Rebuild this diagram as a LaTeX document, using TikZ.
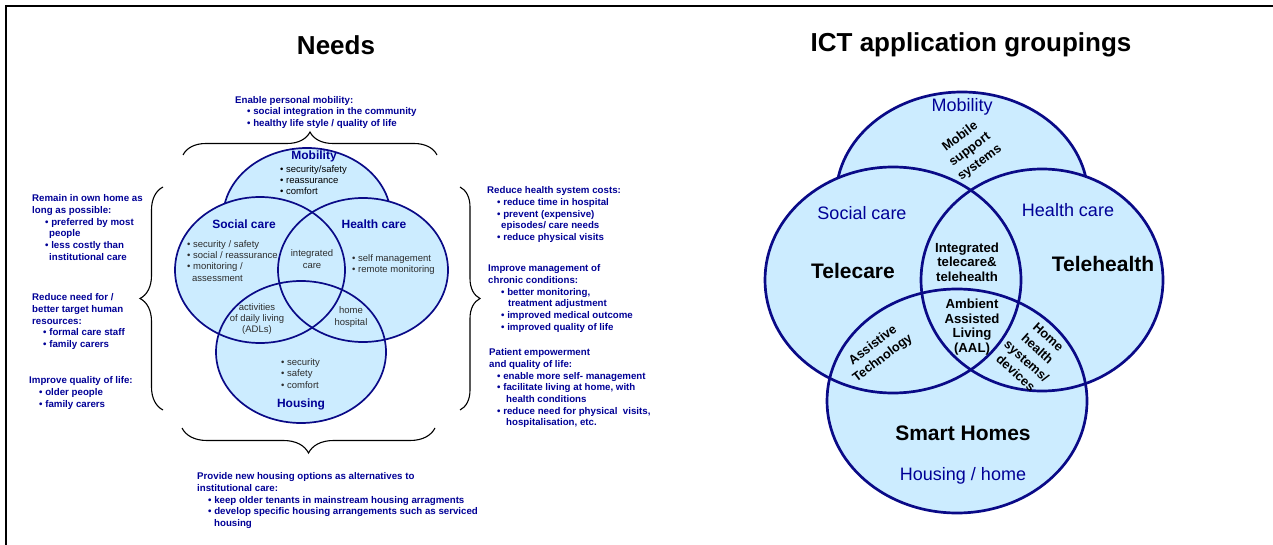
\documentclass[tikz,border=0pt]{standalone}
\usepackage{fontspec}
\setmainfont{Liberation Sans}
\usetikzlibrary{decorations.pathreplacing}
\definecolor{fillb}{RGB}{204,236,255}
\definecolor{navy}{RGB}{10,10,135}
\definecolor{txtb}{RGB}{0,0,150}
\definecolor{grayt}{RGB}{45,45,45}
\begin{document}
\begin{tikzpicture}[x=1pt,y=-1pt,
  vfill/.style={fill=fillb},
  lline/.style={draw=navy, line width=1.7pt},
  rline/.style={draw=navy, line width=2.7pt},
  needtxt/.style={anchor=north west, inner sep=0pt, align=left, text=txtb,
    font=\fontsize{9.7}{11.7}\selectfont\bfseries},
  vt/.style={inner sep=0pt, align=left, text=grayt, font=\fontsize{9.5}{11.4}\selectfont},
  vtk/.style={inner sep=0pt, align=left, text=black, font=\fontsize{9.5}{11.4}\selectfont},
  lhead/.style={inner sep=0pt, text=txtb, font=\fontsize{12}{14}\selectfont\bfseries},
  rlab/.style={inner sep=0pt, text=txtb, font=\fontsize{18}{20}\selectfont},
  rbig/.style={inner sep=0pt, text=black, font=\fontsize{21}{24}\selectfont\bfseries},
  rsm/.style={inner sep=0pt, align=center, text=black, font=\fontsize{13.2}{14.5}\selectfont\bfseries},
  rrot/.style={inner sep=0pt, align=center, text=black, font=\fontsize{12.8}{16.2}\selectfont\bfseries},
  title/.style={inner sep=0pt, text=black, font=\fontsize{26}{30}\selectfont\bfseries},
  bracedec/.style={decorate, decoration={brace, amplitude=#1}, line width=1.1pt, draw=black}
]
\useasboundingbox (0,0) rectangle (1273,545);
% frame
\draw[line width=2pt] (6,545) -- (6,6.5) -- (1273,6.5);

% titles
\node[title] (tneeds) at (336,45) {Needs};
\node[title] (tict) at (971,45) {ICT application groupings};

% ---------- left Venn ----------
\path[vfill, lline] (307,218) ellipse [x radius=84pt, y radius=70pt];
\path[vfill] (260,270) ellipse [x radius=85pt, y radius=73pt];
\path[vfill] (363,270) ellipse [x radius=85pt, y radius=72pt];
\path[vfill] (301,352) ellipse [x radius=85pt, y radius=71pt];
\path[lline] (260,270) ellipse [x radius=85pt, y radius=73pt];
\path[lline] (363,270) ellipse [x radius=85pt, y radius=72pt];
\path[lline] (301,352) ellipse [x radius=85pt, y radius=71pt];

\node[lhead] (lmob) at (314,156) {Mobility};
\node[vtk, anchor=north west] (lmobl) at (280,165) {• security/safety\\• reassurance\\• comfort};
\node[lhead] (lsoc) at (244,224) {Social care};
\node[lhead] (lhea) at (374,224) {Health care};
\node[vt, anchor=north west] (lsocl) at (187,240) {• security / safety\\• social / reassurance\\• monitoring /\\\hspace*{5pt}assessment};
\node[vt, align=center] (lint) at (312,259) {integrated\\care};
\node[vt, anchor=north west] (lheal) at (352,254.5) {• self management\\• remote monitoring};
\node[vt, align=center] (ladl) at (257,319) {activities\\of daily living\\(ADLs)};
\node[vt, align=center] (lhh) at (351,317) {home\\hospital};
\node[vt, anchor=north west] (lhoul) at (281,358.5) {• security\\• safety\\• comfort};
\node[lhead] (lhou) at (301,404) {Housing};

% braces
\coordinate (tbl) at (183,155); \coordinate (tbr) at (437,155);
\draw[bracedec=23pt] (tbl) -- (tbr);
\coordinate (lbb) at (163,410); \coordinate (lbt) at (163,187);
\draw[bracedec=23pt] (lbb) -- (lbt);
\coordinate (rbt) at (460,187); \coordinate (rbb) at (460,410);
\draw[bracedec=20pt] (rbt) -- (rbb);
\coordinate (bbr) at (435,428); \coordinate (bbl) at (182,428);
\draw[bracedec=25pt] (bbr) -- (bbl);

% need texts
\node[needtxt] (ntop) at (235,96) {Enable personal mobility:\\
\hspace*{12pt}• social integration in the community\\
\hspace*{12pt}• healthy life style / quality of life};

\node[needtxt] (nl1) at (32,194.5) {Remain in own home as\\long as possible:\\
\hspace*{13pt}• preferred by most\\\hspace*{17pt}people\\
\hspace*{13pt}• less costly than\\\hspace*{17pt}institutional care};
\node[needtxt] (nl2) at (32,293.5) {Reduce need for /\\better target human\\resources:\\
\hspace*{11pt}• formal care staff\\\hspace*{11pt}• family carers};
\node[needtxt] (nl3) at (29,376.5) {Improve quality of life:\\
\hspace*{10pt}• older people\\\hspace*{10pt}• family carers};

\node[needtxt] (nr1) at (487,186.5) {Reduce health system costs:\\
\hspace*{10pt}• reduce time in hospital\\
\hspace*{10pt}• prevent (expensive)\\
\hspace*{14pt}episodes/ care needs\\
\hspace*{10pt}• reduce physical visits};
\node[needtxt] (nr2) at (488,264.5) {Improve management of\\chronic conditions:\\
\hspace*{13pt}• better monitoring,\\
\hspace*{20pt}treatment adjustment\\
\hspace*{13pt}• improved medical outcome\\
\hspace*{13pt}• improved quality of life};
\node[needtxt] (nr3) at (489,348.5) {Patient empowerment\\and quality of life:\\
\hspace*{8pt}• enable more self- management\\
\hspace*{8pt}• facilitate living at home, with\\
\hspace*{17pt}health conditions\\
\hspace*{8pt}• reduce need for physical\ \ visits,\\
\hspace*{17pt}hospitalisation, etc.};

\node[needtxt] (nbot) at (197,472.5) {Provide new housing options as alternatives to\\institutional care:\\
\hspace*{11pt}• keep older tenants in mainstream housing arragments\\
\hspace*{11pt}• develop specific housing arrangements such as serviced\\
\hspace*{17pt}housing};

% ---------- right Venn ----------
\path[vfill, rline] (962,197) ellipse [x radius=126pt, y radius=105pt];
\path[vfill] (893,280) ellipse [x radius=128pt, y radius=113pt];
\path[vfill] (1042,280) ellipse [x radius=121pt, y radius=111pt];
\path[vfill] (957,401) ellipse [x radius=130pt, y radius=112pt];
\path[rline] (893,280) ellipse [x radius=128pt, y radius=113pt];
\path[rline] (1042,280) ellipse [x radius=121pt, y radius=111pt];
\path[rline] (957,401) ellipse [x radius=130pt, y radius=112pt];

\node[rlab] (rmob) at (962,107) {Mobility};
\node[rrot, rotate=37] (rmss) at (970,150) {Mobile\\support\\systems};
\node[rlab] (rsoc) at (862,213) {Social care};
\node[rlab] (rhea) at (1068,210) {Health care};
\node[rbig] (rtc) at (853,271) {Telecare};
\node[rbig] (rth) at (1103,264) {Telehealth};
\node[rsm] (rint) at (967,262) {Integrated\\telecare\&\\telehealth};
\node[rsm] (raal) at (972,327) {Ambient\\Assisted\\Living\\(AAL)};
\node[rrot, rotate=37] (rat) at (878,352) {Assistive\\Technology};
\node[rrot, rotate=-42] (rhhs) at (1032,355) {Home\\health\\systems/\\devices};
\node[rbig] (rsh) at (963,433) {Smart Homes};
\node[rlab] (rhh) at (963,476) {Housing / home};
\end{tikzpicture}
\end{document}
